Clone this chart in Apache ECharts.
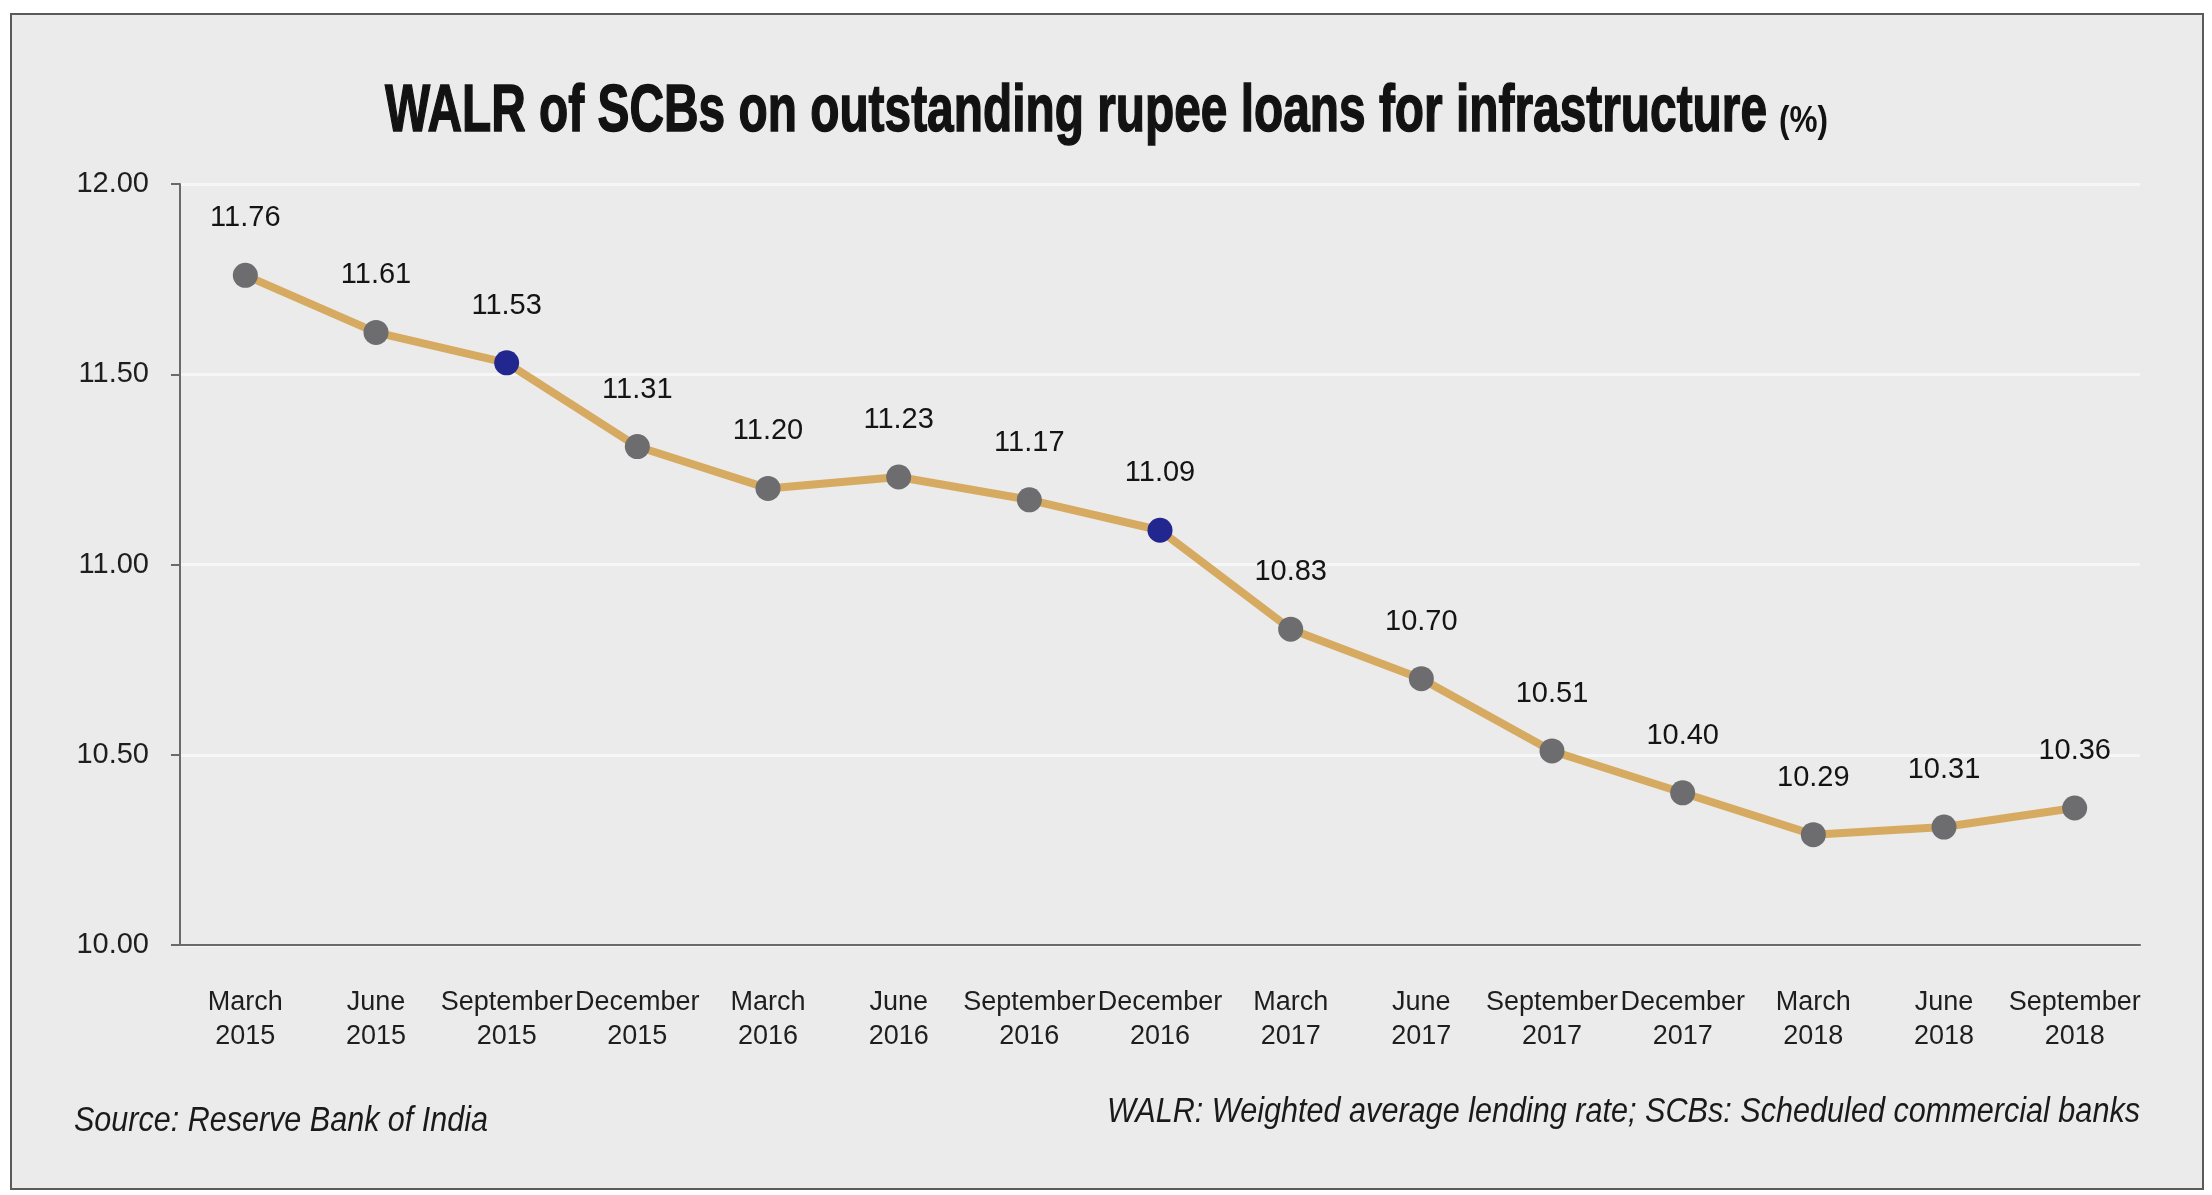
<!DOCTYPE html>
<html>
<head>
<meta charset="utf-8">
<script src="https://cdn.jsdelivr.net/npm/echarts@6/dist/echarts.min.js"></script>
<style>
  html, body { margin: 0; padding: 0; background: #ffffff; }
  #chart { width: 2212px; height: 1195px; }
</style>
</head>
<body>
<div id="chart"></div>
<script>
const quarters = [
  "March\n2015", "June\n2015", "September\n2015", "December\n2015",
  "March\n2016", "June\n2016", "September\n2016", "December\n2016",
  "March\n2017", "June\n2017", "September\n2017", "December\n2017",
  "March\n2018", "June\n2018", "September\n2018",
];
const walrValues = [
  11.76, 11.61, 11.53, 11.31, 11.2, 11.23, 11.17, 11.09,
  10.83, 10.7, 10.51, 10.4, 10.29, 10.31, 10.36,
];
const highlightedQuarters = [2, 7];
const yTicks = { min: 10, max: 12, interval: 0.5 };

const titleText = "WALR of SCBs on outstanding rupee loans for infrastructure";
const unitText = "(%)";
const sourceText = "Source: Reserve Bank of India";
const noteText = "WALR: Weighted average lending rate; SCBs: Scheduled commercial banks";

const FONT = "'Liberation Sans', Arimo, Arial, sans-serif";
const GREY_DOT = "#6d6d70";
const NAVY_DOT = "#22278f";

// the original uses a condensed face; squeeze regular glyphs to the same width
const measureCtx = document.createElement("canvas").getContext("2d");
const textWidth = (text, font) => {
  measureCtx.font = font;
  return measureCtx.measureText(text).width;
};

const TITLE_FONT = "bold 66px " + FONT;
const UNIT_FONT = "bold 36px " + FONT;
const NOTE_FONT = "italic 35px " + FONT;

const titleScale = 1382 / textWidth(titleText, TITLE_FONT);
const unitScale = 49 / textWidth(unitText, UNIT_FONT);
const sourceScale = 414 / textWidth(sourceText, NOTE_FONT);
const noteScale = 1033 / textWidth(noteText, NOTE_FONT);

const chart = echarts.init(document.getElementById("chart"));

const seriesData = walrValues.map((value, idx) => ({
  value,
  itemStyle: { color: highlightedQuarters.includes(idx) ? NAVY_DOT : GREY_DOT },
}));

chart.setOption({
  backgroundColor: "#ffffff",
  animation: false,
  graphic: [
    {
      type: "rect",
      z: -10,
      shape: { x: 11, y: 14, width: 2192, height: 1175 },
      style: { fill: "#ebebeb", stroke: "#5a5a5a", lineWidth: 2 },
    },
    {
      type: "text",
      x: 385,
      y: 146,
      scaleX: titleScale,
      style: {
        text: titleText,
        font: TITLE_FONT,
        fill: "#121212",
        stroke: "#121212",
        lineWidth: 1.5,
        textAlign: "left",
        textVerticalAlign: "bottom",
      },
    },
    {
      type: "text",
      x: 1779,
      y: 140,
      scaleX: unitScale,
      style: {
        text: unitText,
        font: UNIT_FONT,
        fill: "#121212",
        textAlign: "left",
        textVerticalAlign: "bottom",
      },
    },
    {
      type: "text",
      x: 74,
      y: 1121,
      scaleX: sourceScale,
      style: {
        text: sourceText,
        font: NOTE_FONT,
        fill: "#1a1a1a",
        textAlign: "left",
        textVerticalAlign: "middle",
      },
    },
    {
      type: "text",
      x: 2140,
      y: 1112,
      scaleX: noteScale,
      style: {
        text: noteText,
        font: NOTE_FONT,
        fill: "#1a1a1a",
        textAlign: "right",
        textVerticalAlign: "middle",
      },
    },
  ],
  grid: {
    left: 180,
    right: 72,
    top: 184,
    bottom: 250,
  },
  xAxis: {
    type: "category",
    data: quarters,
    boundaryGap: true,
    axisLine: { lineStyle: { color: "#6a6a6a", width: 2 } },
    axisTick: { show: false },
    axisLabel: {
      color: "#1e1e1e",
      fontFamily: FONT,
      fontSize: 27,
      lineHeight: 34,
      margin: 41,
      interval: 0,
    },
  },
  yAxis: {
    type: "value",
    min: yTicks.min,
    max: yTicks.max,
    interval: yTicks.interval,
    axisLine: { show: true, lineStyle: { color: "#6a6a6a", width: 2 } },
    axisTick: { show: true, length: 9, lineStyle: { color: "#6a6a6a", width: 2 } },
    splitLine: { lineStyle: { color: "#f6f6f6", width: 3 } },
    axisLabel: {
      color: "#1e1e1e",
      fontFamily: FONT,
      fontSize: 29,
      margin: 31,
      formatter: (value) => value.toFixed(2),
    },
  },
  series: [
    {
      type: "line",
      data: seriesData,
      symbol: "circle",
      symbolSize: 25,
      lineStyle: { color: "#d6ab61", width: 8 },
      label: {
        show: true,
        position: "top",
        distance: 30,
        color: "#141414",
        fontFamily: FONT,
        fontSize: 29,
        formatter: (params) => Number(params.value).toFixed(2),
      },
    },
  ],
});
</script>
</body>
</html>
